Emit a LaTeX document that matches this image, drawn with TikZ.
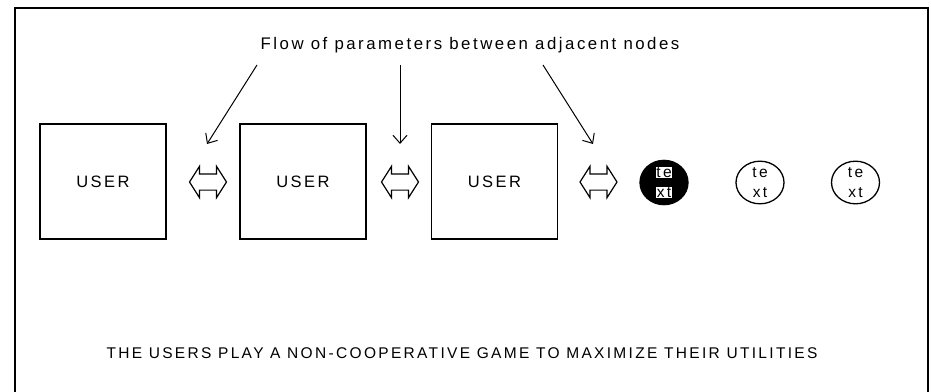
\documentclass[tikz,border=0pt]{standalone}
\usepackage{fontspec}
\setmainfont{Liberation Sans}
\newfontfamily\widefont[LetterSpace=15]{Liberation Sans}
\usetikzlibrary{shapes.geometric,shapes.arrows,arrows.meta}
\tikzset{
  userbox/.style={draw,line width=1.5pt,minimum width=126pt,minimum height=115pt,inner sep=0pt,font=\widefont\fontsize{16.5}{16.5}\selectfont},
  dblarrow/.style={draw,line width=1.2pt,double arrow,double arrow head extend=7.5pt,double arrow tip angle=115,inner sep=7.5pt,minimum height=37pt,minimum width=30pt},
  tnode/.style={draw,line width=1.3pt,ellipse,minimum width=48pt,minimum height=41pt,inner sep=0pt,align=center,font=\widefont\fontsize{15.5}{20}\selectfont},
  pointer/.style={line width=1pt,-{Straight Barb[length=8pt,width=14pt]}},
}
\setlength{\fboxsep}{0.6pt}
\begin{document}
\begin{tikzpicture}[x=1pt,y=-1pt]
\useasboundingbox (0,0) rectangle (931,391);
\draw[line width=2pt] (15,400) -- (15,8) -- (928,8) -- (928,400);
\node[font=\widefont\fontsize{16.8}{16.8}\selectfont] (title) at (470,45) {Flow of parameters between adjacent nodes};
\node[userbox] (u1) at (103,181.5) {USER};
\node[userbox] (u2) at (303,181.5) {USER};
\node[userbox] (u3) at (494.5,181.5) {USER};
\node[dblarrow] (a1) at (208,182) {};
\node[dblarrow] (a2) at (400,182) {};
\node[dblarrow] (a3) at (598.5,182) {};
\node[tnode,fill=black] (e1) at (664,182.5) {\colorbox{white}{te}\\\colorbox{white}{xt}};
\node[tnode] (e2) at (760,182.5) {te\\xt};
\node[tnode] (e3) at (855.5,182.5) {te\\xt};
\coordinate (s1) at (257,65);
\coordinate (s2) at (400,65);
\coordinate (s3) at (543,65);
\coordinate (t1) at (207,144);
\coordinate (t2) at (400,144);
\coordinate (t3) at (593,144);
\draw[pointer] (s1) -- (t1);
\draw[pointer] (s2) -- (t2);
\draw[pointer] (s3) -- (t3);
\node[font=\widefont\fontsize{15.5}{15.5}\selectfont] (bottom) at (462,353) {THE USERS PLAY A NON-COOPERATIVE GAME TO MAXIMIZE THEIR UTILITIES};
\end{tikzpicture}
\end{document}
